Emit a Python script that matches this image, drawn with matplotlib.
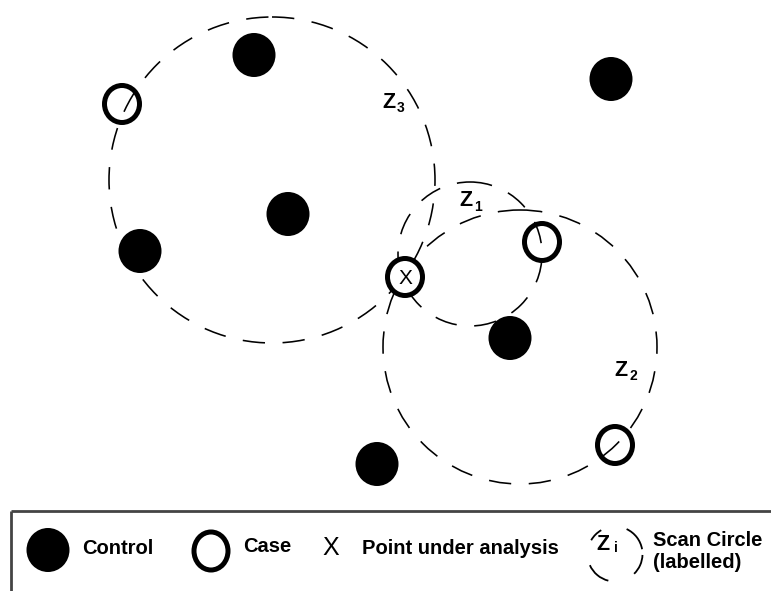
import matplotlib
matplotlib.use("Agg")
import matplotlib.pyplot as plt
from matplotlib.patches import Ellipse, Circle, Arc

# ---- data (pixel coordinates of the diagram) ----
control_x = [254, 611, 288, 140, 510, 377]
control_y = [55, 79, 214, 251, 338, 464]
case_x = [122, 542, 615]
case_y = [104, 242, 445]
point_x = [405]
point_y = [277]
scan_labels = ["1", "2", "3"]
scan_cx = [470, 520, 272]
scan_cy = [254, 347, 180]
scan_r = [72, 137, 163]
label_x = [466, 621, 389]
label_y = [201, 370, 102]
legend_labels = ["Control", "Case", "Point under analysis", "Scan Circle\n(labelled)"]

W, H = 771, 591
fig = plt.figure(figsize=(W / 100, H / 100), dpi=100)
ax = fig.add_axes([0, 0, 1, 1])
ax.set_xlim(0, W)
ax.set_ylim(H, 0)
ax.axis("off")

FONT = ["Liberation Sans", "DejaVu Sans"]
DASH = (0, (14, 11))

# scan circles
for cx, cy, r in zip(scan_cx, scan_cy, scan_r):
    ax.add_patch(Circle((cx, cy), r, fill=False, ec="black", lw=1.15, ls=DASH, zorder=1))

# controls
for x, y in zip(control_x, control_y):
    ax.add_patch(Ellipse((x, y), 43, 44, fc="black", ec="none", zorder=3))

# cases (open rings, scan circle lines remain visible inside)
for x, y in zip(case_x, case_y):
    ax.add_patch(Ellipse((x, y), 35, 37, fill=False, ec="black", lw=3.6, zorder=3))

# point under analysis
for x, y in zip(point_x, point_y):
    ax.add_patch(Ellipse((x, y), 35, 37, fc="white", ec="black", lw=3.6, zorder=3))
    ax.text(x, y + 1, "X", ha="center", va="center", fontsize=15, family=FONT, zorder=4)

# labels
for lx, ly, s in zip(label_x, label_y, scan_labels):
    ax.text(lx, ly, "Z", ha="center", va="center", fontsize=15.5, fontweight="bold", family=FONT)
    ax.text(lx + 12, ly + 6, s, ha="center", va="center", fontsize=10, fontweight="bold", family=FONT)

# legend box
ax.plot([11, W], [511, 511], color="#444444", lw=2, solid_capstyle="butt")
ax.plot([11, 11], [511, H], color="#444444", lw=2, solid_capstyle="butt")

ax.add_patch(Ellipse((48, 550), 43, 44, fc="black", ec="none"))
ax.text(82, 549, legend_labels[0], ha="left", va="center", fontsize=14.5, fontweight="bold", family=FONT)
ax.add_patch(Ellipse((211, 551), 34, 38, fill=False, ec="black", lw=3.6))
ax.text(243, 547, legend_labels[1], ha="left", va="center", fontsize=14.5, fontweight="bold", family=FONT)
ax.text(331, 548, "X", ha="center", va="center", fontsize=18, family=FONT)
ax.text(362, 549, legend_labels[2], ha="left", va="center", fontsize=14.5, fontweight="bold", family=FONT)
for t1, t2 in [(210, 240), (295, 350), (104, 156), (2, 46)]:
    ax.add_patch(Arc((615, 554), 55, 55, theta1=t1, theta2=t2, color="black", lw=1.3))
ax.text(603, 545, "Z", ha="center", va="center", fontsize=15.5, fontweight="bold", family=FONT)
ax.text(616, 548, "i", ha="center", va="center", fontsize=10, fontweight="bold", family=FONT)
ax.text(653, 541, "Scan Circle", ha="left", va="center", fontsize=14.5, fontweight="bold", family=FONT)
ax.text(653, 563, "(labelled)", ha="left", va="center", fontsize=14.5, fontweight="bold", family=FONT)

fig.savefig("out.png", dpi=100)
